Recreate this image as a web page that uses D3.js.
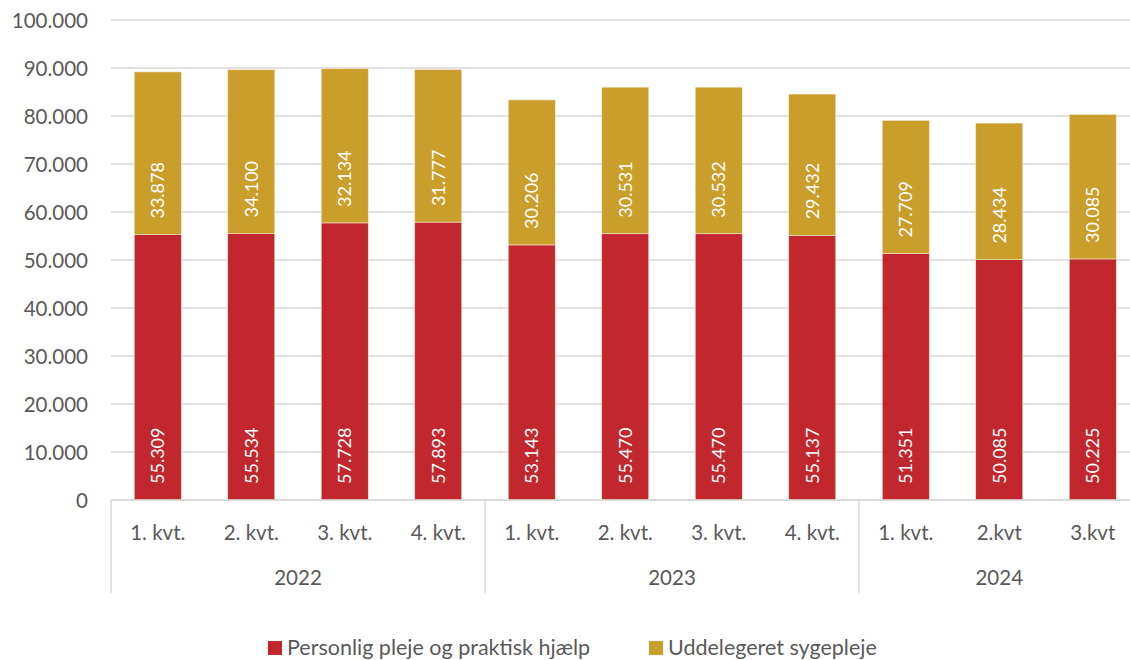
<!DOCTYPE html>
<html><head><meta charset="utf-8">
<script src="https://cdn.jsdelivr.net/npm/d3@7/dist/d3.min.js"></script>
<style>body{margin:0;background:#fff}svg{display:block;font-family:Lato,"Open Sans",sans-serif}</style>
</head><body><svg id="c" width="1130" height="660"></svg>
<script>
const years = ["2022","2022","2022","2022","2023","2023","2023","2023","2024","2024","2024"];
const quarters = ["1. kvt.","2. kvt.","3. kvt.","4. kvt.","1. kvt.","2. kvt.","3. kvt.","4. kvt.","1. kvt.","2.kvt","3.kvt"];
const pleje = [55309,55534,57728,57893,53143,55470,55470,55137,51351,50085,50225];
const syge = [33878,34100,32134,31777,30206,30531,30532,29432,27709,28434,30085];
const seriesNames = ["Personlig pleje og praktisk hjælp","Uddelegeret sygepleje"];
const yTicks = [0,10000,20000,30000,40000,50000,60000,70000,80000,90000,100000];
const colors = ["#C1272D","#CA9E2B"];

const svg = d3.select("#c");
const L = 111, R = 1139.5, T = 20, B = 500;
const ids = quarters.map((q,i)=>i);
const x = d3.scaleBand().domain(ids).range([L,R]).paddingInner(0.497).paddingOuter(0.2485);
const y = d3.scaleLinear().domain([0,100000]).range([B,T]);
const fmt = v => d3.format(",")(v).replace(/,/g,".");

// gridlines
svg.append("g").selectAll("line").data(yTicks).join("line")
  .attr("x1",L).attr("x2",1130).attr("y1",d=>y(d)).attr("y2",d=>y(d))
  .attr("stroke","#D9D9D9").attr("stroke-width",1.5);
// y labels
const yAxis = d3.axisLeft(y).tickValues(yTicks).tickFormat(d=>d===0?"0":fmt(d)).tickSize(0).tickPadding(0);
const ga = svg.append("g").attr("transform",`translate(88,0)`).call(yAxis);
ga.select(".domain").remove();
ga.selectAll("text").attr("fill","#595959").style("font-size","20.5px").style("font-family","Lato").attr("dy","0.35em");

// stacked data
const data = ids.map(i=>({i, a:pleje[i], b:syge[i]}));
const stack = d3.stack().keys(["a","b"])(data);
const g = svg.append("g");
stack.forEach((s,si)=>{
  g.selectAll(null).data(s).join("rect")
    .attr("x",d=>x(d.data.i)).attr("width",x.bandwidth())
    .attr("y",d=>y(d[1])).attr("height",d=>y(d[0])-y(d[1]))
    .attr("fill",colors[si]).attr("stroke","#f3e6cf").attr("stroke-width",0.6);
  g.selectAll(null).data(s).join("text")
    .attr("transform",d=>`translate(${x(d.data.i)+x.bandwidth()/2},${y(d[0])-16}) rotate(-90)`)
    .attr("text-anchor","start").attr("dy","0.36em")
    .attr("fill","#fff").style("font-size","18px")
    .text(d=>fmt(d[1]-d[0]));
});

// x axis line
svg.append("line").attr("x1",L).attr("x2",1130).attr("y1",B).attr("y2",B).attr("stroke","#D9D9D9").attr("stroke-width",1.5);
// quarter labels
svg.append("g").selectAll("text").data(ids).join("text")
  .attr("x",i=>x(i)+x.bandwidth()/2).attr("y",533).attr("dy","0.35em")
  .attr("text-anchor","middle").attr("fill","#595959").style("font-size","20.5px")
  .text(i=>quarters[i]);
// year groups
const yearList = Array.from(new Set(years));
const step = x.step();
const groups = yearList.map(yr=>{
  const idx = ids.filter(i=>years[i]===yr);
  return {yr, x0: L + idx[0]*step, x1: L + (idx[idx.length-1]+1)*step};
});
svg.append("g").selectAll("line").data([...groups.map(d=>d.x0), groups[groups.length-1].x1]).join("line")
  .attr("x1",d=>d).attr("x2",d=>d).attr("y1",B).attr("y2",593)
  .attr("stroke","#D9D9D9").attr("stroke-width",1.5);
svg.append("g").selectAll("text").data(groups).join("text")
  .attr("x",d=>(d.x0+d.x1)/2).attr("y",578).attr("dy","0.35em")
  .attr("text-anchor","middle").attr("fill","#595959").style("font-size","20.5px")
  .text(d=>d.yr);

// legend
const lg = svg.append("g");
const lx = [268,649];
seriesNames.forEach((n,i)=>{
  lg.append("rect").attr("x",lx[i]).attr("y",641).attr("width",14).attr("height",14).attr("fill",colors[i]);
  lg.append("text").attr("x",lx[i]+19).attr("y",647).attr("dy","0.35em").attr("fill","#595959")
    .style("font-size","21.5px").text(n);
});
</script></body></html>
